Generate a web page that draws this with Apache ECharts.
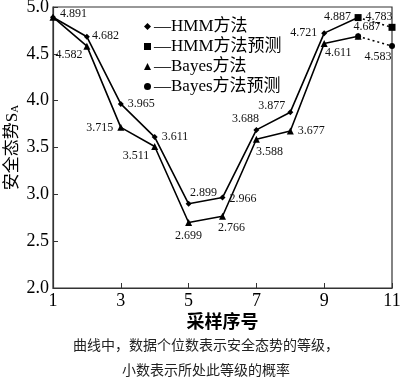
<!DOCTYPE html>
<html><head><meta charset="utf-8">
<script src="https://cdn.jsdelivr.net/npm/echarts@6/dist/echarts.min.js"></script>
<style>html,body{margin:0;padding:0;background:#fff}#c{width:400px;height:380px}</style>
</head><body><div id="c"></div>
<script>
const categories = ['1','2','3','4','5','6','7','8','9','10','11'];
const hmm = [4.891, 4.682, 3.965, 3.611, 2.899, 2.966, 3.688, 3.877, 4.721, 4.887, null];
const hmmPred = [null, null, null, null, null, null, null, null, null, 4.887, 4.783];
const bayes = [4.891, 4.582, 3.715, 3.511, 2.699, 2.766, 3.588, 3.677, 4.611, 4.687, null];
const bayesPred = [null, null, null, null, null, null, null, null, null, 4.687, 4.583];
const yTicks = [2.0, 2.5, 3.0, 3.5, 4.0, 4.5, 5.0];
const names = ['HMM方法', 'HMM方法预测', 'Bayes方法', 'Bayes方法预测'];

// label placements (style only)
const hmmLbl = [['right',[0,-3]],['right',[-2,-1]],['right',[0,0]],['right',[0,0]],['top',[15,2]],['right',[0,1]],['top',[-11,2]],['left',[2,-6]],['left',[0,0]],['left',[0,-1]],null];
const hmmPredLbl = [null,null,null,null,null,null,null,null,null,null,['top',[-13,3]]];
const bayesLbl = [null,['left',[3,9]],['left',[0,0]],['left',[2,9]],['bottom',[0,0]],['bottom',[9,-2]],['bottom',[13,-1]],['right',[0,0]],['bottom',[14,-4]],['top',[9,4]],null];
const bayesPredLbl = [null,null,null,null,null,null,null,null,null,null,['bottom',[-14,-2]]];

const serif = '"Liberation Serif", "Times New Roman", "Noto Sans CJK SC", serif';

function build(vals, lbls) {
  return vals.map((v, i) => {
    const l = lbls[i];
    if (v === null) return null;
    const item = { value: v };
    if (l) {
      item.label = { show: true, position: l[0], offset: l[1], formatter: () => v.toFixed(3) };
    } else {
      item.label = { show: false };
    }
    return item;
  });
}

const chart = echarts.init(document.getElementById('c'), null, { renderer: 'canvas' });
const lineBase = (name, data, lbls, symbol, size, dotted) => ({
  name, type: 'line', data: build(data, lbls), symbol, symbolSize: size,
  connectNulls: false, animation: false,
  lineStyle: { color: '#000', width: dotted ? 1.5 : 1.6, type: dotted ? [2, 3] : 'solid' },
  itemStyle: { color: '#000' },
  label: { color: '#111', fontSize: 12, fontFamily: serif, distance: 4 },
  emphasis: { disabled: true }
});

chart.setOption({
  animation: false,
  grid: { left: 53, right: 8, top: 7, bottom: 92, containLabel: false, outerBoundsMode: 'none',
    show: true, borderColor: '#333', borderWidth: 1.2 },
  legend: {
    orient: 'vertical', left: 139, top: 13, itemGap: 3, itemWidth: 7, itemHeight: 7,
    data: [
      { name: names[0], icon: 'diamond' },
      { name: names[1], icon: 'rect' },
      { name: names[2], icon: 'triangle' },
      { name: names[3], icon: 'circle' }
    ],
    formatter: n => '—' + n,
    textStyle: { fontSize: 17, fontFamily: serif, color: '#000', padding: [0, 0, 0, -2] },
    selectedMode: false
  },
  xAxis: {
    type: 'category', data: categories, boundaryGap: false,
    axisLine: { lineStyle: { color: '#333', width: 1.2 } },
    axisTick: { inside: true, interval: 1, length: 5, lineStyle: { color: '#333' } },
    axisLabel: { interval: 1, fontSize: 18, fontFamily: serif, color: '#000', margin: 4 },
    name: '采样序号', nameLocation: 'middle', nameGap: 24, nameMoveOverlap: false,
    nameTextStyle: { fontSize: 18, fontWeight: 'bold', color: '#000', fontFamily: '"Noto Sans CJK SC", sans-serif' }
  },
  yAxis: {
    type: 'value', min: 2, max: 5, interval: 0.5,
    axisLine: { show: true, lineStyle: { color: '#333', width: 1.2 } },
    axisTick: { show: true, inside: true, length: 5, lineStyle: { color: '#333' } },
    splitLine: { show: false },
    axisLabel: { fontSize: 18, fontFamily: serif, color: '#000', margin: 4, formatter: v => v.toFixed(1) },
    name: '安全态势S{sub|A}', nameLocation: 'middle', nameGap: 32, nameRotate: 90, nameMoveOverlap: false,
    nameTextStyle: { fontSize: 17, color: '#000', fontFamily: serif,
      rich: { sub: { fontSize: 11, fontFamily: serif, color: '#000', verticalAlign: 'bottom', padding: [6, 0, 0, 0] } } }
  },
  graphic: [
    { type: 'text', x: 206, y: 345, style: { text: '曲线中，数据个位数表示安全态势的等级，', fontSize: 14, fill: '#222', align: 'center', verticalAlign: 'middle', fontFamily: '"Noto Sans CJK SC", sans-serif' } },
    { type: 'text', x: 206, y: 370, style: { text: '小数表示所处此等级的概率', fontSize: 14, fill: '#222', align: 'center', verticalAlign: 'middle', fontFamily: '"Noto Sans CJK SC", sans-serif' } }
  ],
  series: [
    lineBase(names[0], hmm, hmmLbl, 'diamond', 6, false),
    lineBase(names[1], hmmPred, hmmPredLbl, 'rect', 7, true),
    lineBase(names[2], bayes, bayesLbl, 'triangle', 7, false),
    lineBase(names[3], bayesPred, bayesPredLbl, 'circle', 6, true)
  ]
});
</script></body></html>
